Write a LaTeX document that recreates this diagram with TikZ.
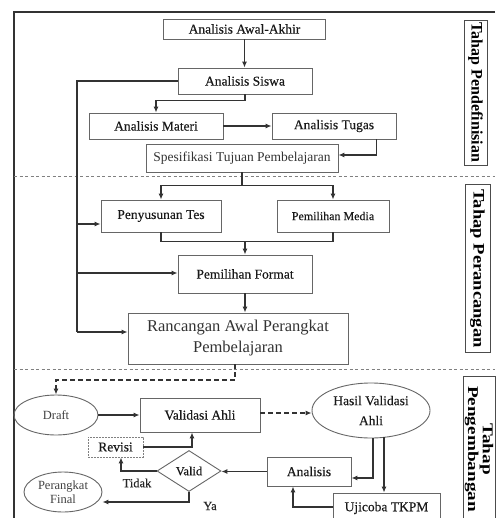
\documentclass[tikz,border=0pt]{standalone}
\usepackage{fontspec}
\setmainfont{Liberation Serif}
\newfontfamily\mserif{Liberation Serif}[FakeBold=0.25]
\usetikzlibrary{arrows.meta,shapes.geometric,calc}
\begin{document}
\begin{tikzpicture}[x=1pt,y=-1pt,
  box/.style={draw=black!60, line width=0.9pt, inner sep=0pt, text=black!90, font=\mserif\fontsize{13.5}{15}\selectfont, align=center},
  ell/.style={ellipse, draw=black!60, line width=0.9pt, inner sep=0pt, text=black!75, font=\fontsize{12.5}{14}\selectfont, align=center},
  arr/.style={draw=black!80, line width=1.1pt, -{Latex[length=6pt,width=5pt]}},
  darr/.style={arr, dash pattern=on 5pt off 3pt},
  ln/.style={draw=black!80, line width=1.1pt},
  sep/.style={draw=black!50, line width=0.8pt, dash pattern=on 3pt off 2.5pt},
  lbl/.style={text=black!85, font=\mserif\fontsize{12.5}{14}\selectfont, inner sep=0pt},
  tahap/.style={draw=black!70, line width=0.9pt, rotate=-90, inner sep=0pt, text=black, font=\fontsize{16}{14}\selectfont\bfseries, align=center},
]
\useasboundingbox (0,0) rectangle (495,518);
\fill[white] (0,0) rectangle (495,518);

% frame and separators
\draw[black!80, line width=1.2pt] (495,12) -- (14,12) -- (14,518);
\draw[sep] (14,176) -- (495,176);
\draw[sep] (14,369) -- (495,369);

% phase labels
\node[tahap, minimum width=145pt, minimum height=23pt] (t1) at (475.5,92.5) {Tahap Pendefinisian};
\node[tahap, minimum width=168pt, minimum height=25pt] (t2) at (477.5,268.5) {\scalebox{1.16}[1]{Tahap Perancangan}};
\node[tahap, minimum width=146pt, minimum height=32pt, font=\fontsize{15}{13}\selectfont\bfseries] (t3) at (479,449) {\scalebox{1.28}[1]{Tahap}\\\scalebox{1.28}[1]{Pengembangan}};

% define stage
\node[box, minimum width=162pt, minimum height=20pt] (awal) at (244.5,29) {Analisis Awal-Akhir};
\node[box, minimum width=134pt, minimum height=26pt] (siswa) at (245,81) {Analisis Siswa};
\node[box, minimum width=134pt, minimum height=26pt] (materi) at (156,126) {Analisis Materi};
\node[box, minimum width=124pt, minimum height=26pt] (tugas) at (334,126) {Analisis Tugas};
\node[box, minimum width=192pt, minimum height=28pt, text=black!80, font=\fontsize{13.5}{15}\selectfont] (spes) at (242,158) {Spesifikasi Tujuan Pembelajaran};

% design stage
\node[box, minimum width=120pt, minimum height=32pt] (tes) at (161,216) {Penyusunan Tes};
\node[box, minimum width=112pt, minimum height=32pt, font=\mserif\fontsize{12}{14}\selectfont] (media) at (333,216) {Pemilihan Media};
\node[box, minimum width=134pt, minimum height=38pt] (format) at (245,274) {Pemilihan Format};
\node[box, minimum width=220pt, minimum height=51pt, text=black!80, font=\fontsize{16.5}{21}\selectfont] (ranc) at (238,338.5) {Rancangan Awal Perangkat\\Pembelajaran};

% development stage
\node[ell, minimum width=84pt, minimum height=40pt] (draft) at (56,415) {Draft};
\node[box, minimum width=120pt, minimum height=34pt] (valahli) at (200,415) {Validasi Ahli};
\node[ell, minimum width=118pt, minimum height=55pt, text=black!90, font=\mserif\fontsize{13.5}{20}\selectfont] (hasil) at (371,410.5) {Hasil Validasi\\Ahli};
\node[box, draw=black!50, dash pattern=on 2pt off 1pt, minimum width=55pt, minimum height=20pt] (revisi) at (115.5,447) {Revisi};
\node[diamond, aspect=1.56, draw=black!60, line width=0.9pt, inner sep=0pt, minimum width=64pt, minimum height=41pt, text=black!90, font=\mserif\fontsize{12.5}{14}\selectfont] (valid) at (189,471) {Valid};
\node[ell, minimum width=78pt, minimum height=40pt] (final) at (63,492) {Perangkat\\Final};
\node[box, minimum width=84pt, minimum height=29pt] (analisis) at (309,471.5) {Analisis};
\node[box, minimum width=107pt, minimum height=30pt] (ujicoba) at (386.5,508) {Ujicoba TKPM};
\node[lbl] (tidak) at (137,483) {Tidak};
\node[lbl] (ya) at (210,506) {Ya};

% connectors: define
\draw[arr] (awal.south) -- (awal.south |- siswa.north);
\coordinate (tk) at (77,332);
\coordinate (tk1) at (77,224);
\coordinate (tk2) at (77,273);
\draw[ln] (siswa.west) -| (tk);
\draw[arr] (tk) -- (tk -| ranc.west);
\draw[arr] (tk1) -- (tk1 -| tes.west);
\draw[arr] (tk2) -- (tk2 -| format.west);
\draw[arr] (siswa.south) -- ++(0,6) -| (materi.north);
\draw[arr] (materi.east) -- (materi.east -| tugas.west);
\draw[arr] ([xshift=-20pt]tugas.south east) |- ([yshift=3pt]spes.east);

% connectors: design
\draw[ln] (spes.south) -- ++(0,13) coordinate (sp);
\draw[arr] (sp) -| (tes.north);
\draw[arr] (sp) -| (media.north);
\draw[ln] (tes.south) -- ++(0,9) coordinate (tb) -| (media.south);
\coordinate (fj) at (format.north |- tb);
\draw[arr] (fj) -- (format.north);
\draw[arr] (format.south) -- (format.south |- ranc.north);

% connectors: development
\draw[darr] ([xshift=-3pt]ranc.south) -- ++(0,15.5) -| (draft.north);
\draw[arr] (draft.east) -- (draft.east -| valahli.west);
\draw[darr] ([yshift=2pt]valahli.east) -- ([yshift=2pt]valahli.east -| hasil.west);
\draw[arr] (revisi.east) -| ([xshift=-8pt]valahli.south);
\draw[arr] (valid.west) -| ([xshift=5.5pt]revisi.south);
\draw[arr] (valid.south) |- ([yshift=-10pt]final.east);
\draw[arr] (analisis.west) -- (analisis.west -| valid.east);
\draw[arr] ([xshift=2pt]hasil.south) |- ([yshift=-6.5pt]analisis.east);
\draw[arr] ([xshift=13pt,yshift=1pt]hasil.south) -- ([xshift=13pt]hasil.south |- ujicoba.north);
\draw[arr] ([yshift=1pt]ujicoba.west) -| ([xshift=-16pt]analisis.south);
\end{tikzpicture}
\end{document}
